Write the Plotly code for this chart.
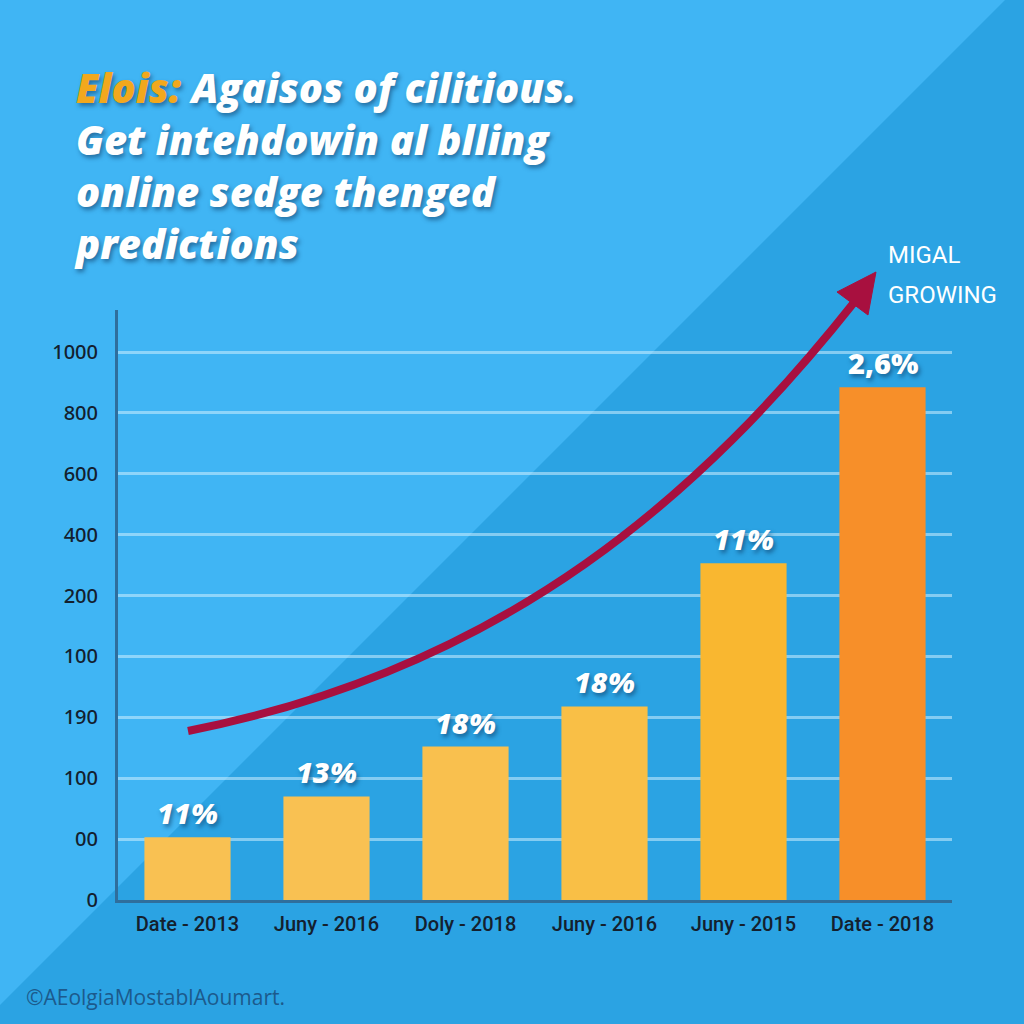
import plotly.graph_objects as go

# ---- data ----
categories = ["Date - 2013", "Juny - 2016", "Doly - 2018", "Juny - 2016", "Juny - 2015", "Date - 2018"]
values = [1.03, 1.70, 2.52, 3.18, 5.53, 8.42]          # bar heights in axis units
bar_labels = ["11%", "13%", "18%", "18%", "11%", "2,6%"]
bar_colors = ["#f9c152", "#f9c152", "#f9c04e", "#f9bf46", "#f9b730", "#f78f29"]
ytick_text = ["0", "00", "100", "190", "100", "200", "400", "600", "800", "1000"]
title_lines = ["Agaisos of cilitious.", "Get intehdowin al blling", "online sedge thenged", "predictions"]
title_prefix = "Elois:"
side_label = ["MIGAL", "GROWING"]
watermark = "©AEolgiaMostablAoumart."

# plot-area pixel frame (for decorations)
L, R, T, B = 118, 952, 310, 900
def px(x):
    return (x - L) / (R - L)
def py(y):
    return (B - y) / (B - T)

xs = list(range(len(categories)))

fig = go.Figure()
fig.add_trace(go.Bar(
    x=xs, y=values, marker=dict(color=bar_colors, line=dict(width=0)),
    width=0.62, hoverinfo="skip", showlegend=False,
))

shadow = "2px 3px 4px rgba(10,50,90,0.55)"
annotations = []
for i, (v, lab) in enumerate(zip(values, bar_labels)):
    annotations.append(dict(
        x=i, y=v, xref="x", yref="y", text=lab, showarrow=False,
        yanchor="bottom", yshift=3,
        font=dict(family="Open Sans", size=29, color="white", weight=800,
                  style="normal" if i == len(values) - 1 else "italic", shadow=shadow),
    ))

# title (one multi-line annotation)
title_txt = "<br>".join(
    [f'<span style="color:#f2a81d">{title_prefix}</span> {title_lines[0]}'] + title_lines[1:]
)
annotations.append(dict(
    x=px(72), y=py(165), xref="paper", yref="paper", text=title_txt, showarrow=False,
    xanchor="left", yanchor="middle", align="left",
    font=dict(family="Open Sans", size=40, color="white", weight=800, style="italic",
              shadow="2px 3px 4px rgba(10,45,85,0.5)"),
))

for txt, yy in zip(side_label, [255, 295]):
    annotations.append(dict(
        x=px(886), y=py(yy), xref="paper", yref="paper", text=txt, showarrow=False,
        xanchor="left", yanchor="middle",
        font=dict(family="Roboto", size=24, color="white"),
    ))

annotations.append(dict(
    x=px(24), y=py(997), xref="paper", yref="paper", text=watermark, showarrow=False,
    xanchor="left", yanchor="middle",
    font=dict(family="Open Sans", size=21, color="#1c5a8c"),
))

def P(x, y):
    return f"{px(x):.5f},{py(y):.5f}"

shapes = [
    # lighter diagonal half of background
    dict(type="path", xref="paper", yref="paper", layer="below",
         path=f"M {P(0,0)} L {P(1005,0)} L {P(0,1005)} Z",
         fillcolor="#40b5f4", line=dict(width=0)),
    # growth arrow
    dict(type="path", xref="paper", yref="paper", layer="above",
         path=f"M {P(188,731)} C {P(508,668)} {P(703,493)} {P(856,300)}",
         line=dict(color="#a8103f", width=8), fillcolor="rgba(0,0,0,0)"),
    dict(type="path", xref="paper", yref="paper", layer="above",
         path=f"M {P(876,272)} L {P(837,292)} L {P(868,315)} Z",
         fillcolor="#a8103f", line=dict(color="#a8103f", width=1)),
]

fig.update_layout(
    width=1024, height=1024, autosize=False,
    margin=dict(l=L, r=1024 - R, t=T, b=1024 - B, pad=0),
    paper_bgcolor="#2ba3e3", plot_bgcolor="rgba(0,0,0,0)",
    annotations=annotations, shapes=shapes,
    xaxis=dict(range=[-0.5, len(categories) - 0.5], tickvals=xs, ticktext=categories,
               showgrid=False, zeroline=False, showline=True, linecolor="#2f6e9c", linewidth=3,
               ticks="outside", ticklen=4, tickcolor="rgba(0,0,0,0)",
               tickfont=dict(family="Roboto", size=20, weight=500, color="#14202e"),
               fixedrange=True),
    yaxis=dict(range=[0, 9.69], tickvals=list(range(len(ytick_text))), ticktext=ytick_text,
               showgrid=True, gridcolor="rgba(205,238,255,0.55)", gridwidth=3,
               zeroline=False, showline=True, linecolor="#2f6e9c", linewidth=3,
               ticks="outside", ticklen=13, tickcolor="rgba(0,0,0,0)",
               tickfont=dict(family="Noto Sans", size=20, weight=500, color="#13202e"),
               fixedrange=True),
)

fig.write_html("out.html", config={"displayModeBar": False},
               post_script="document.body.style.margin='0';document.body.style.padding='0';")
